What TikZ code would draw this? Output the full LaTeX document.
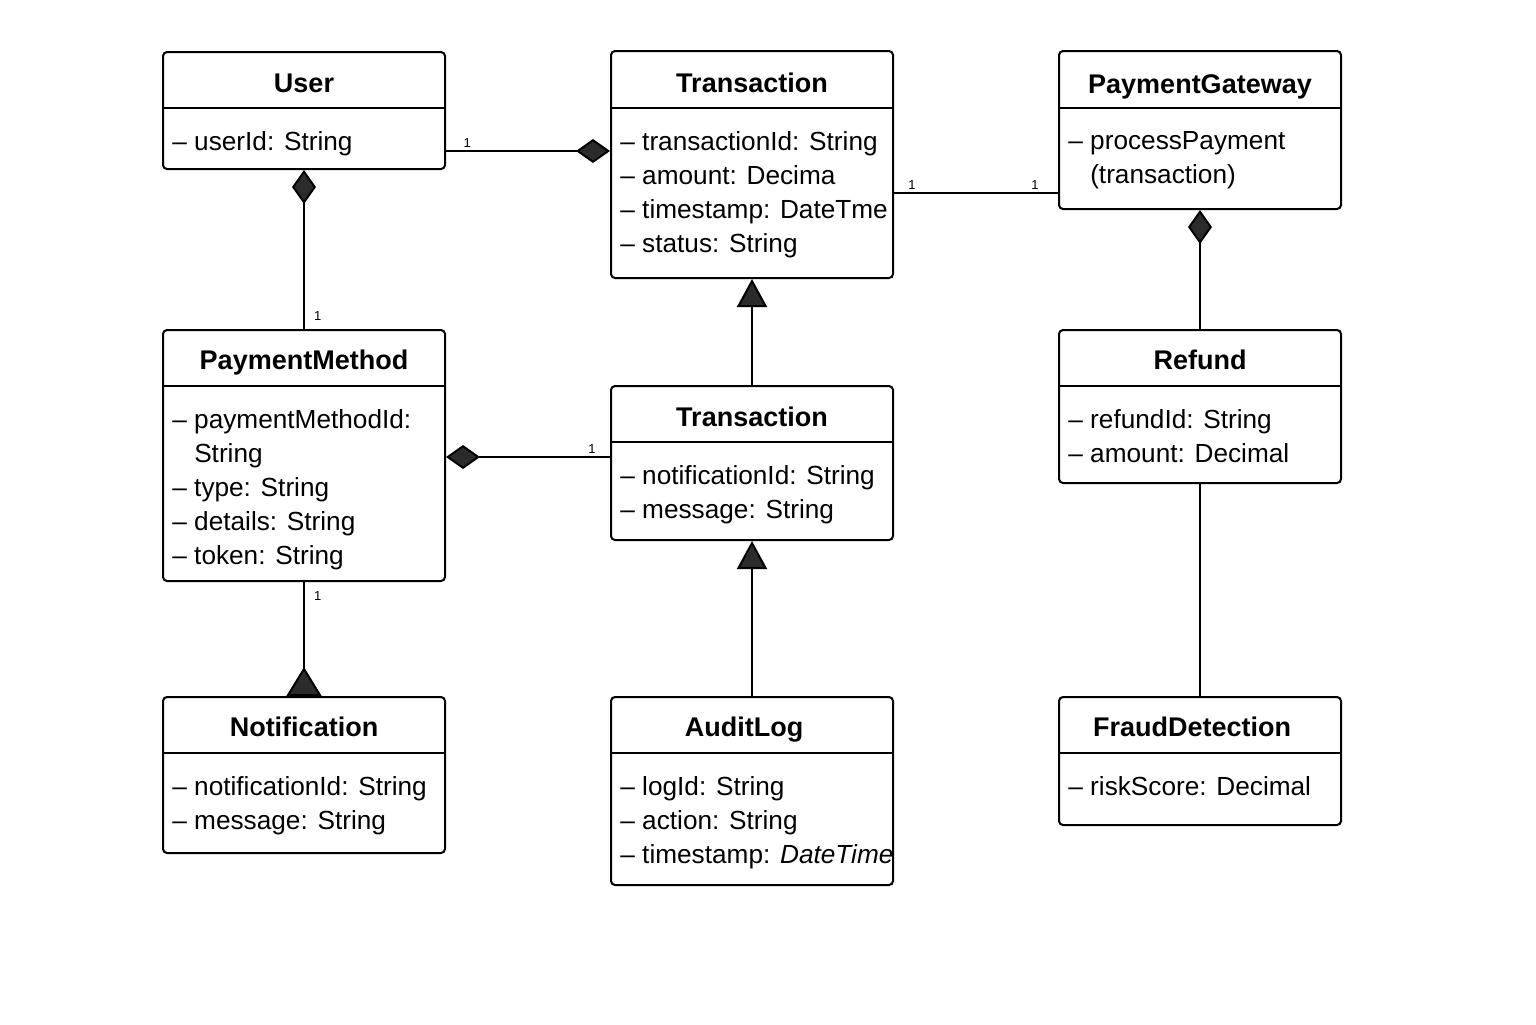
\documentclass[tikz,border=0pt]{standalone}
\usepackage{fontspec}
\setmainfont{Liberation Sans}
\usetikzlibrary{positioning, fit, calc, arrows.meta}

\definecolor{tipgray}{HTML}{2B2B2B}

\tikzset{
  classbox/.style={draw, line width=1pt, rounded corners=2pt, inner sep=0pt},
  classname/.style={font=\fontsize{13.5}{16}\selectfont\bfseries, text height=9.7pt, text depth=0pt, inner sep=0pt},
  attrs/.style={font=\fontsize{13.1}{17}\selectfont, align=left, anchor=north west, inner sep=0pt},
  link/.style={line width=1pt},
  comp/.style={link, -{Diamond[length=17pt, width=12pt, fill=tipgray]}},
  gen/.style={link, -{Triangle[length=14pt, width=15pt, fill=tipgray]}},
  mult/.style={font=\fontsize{6.5}{7}\selectfont, inner sep=1.5pt},
}

\begin{document}
\begin{tikzpicture}[x=0.5pt, y=-0.5pt]
                \useasboundingbox (0,0) rectangle (1536,1024);

                % klase
                \node[classbox, fit={(163,52) (445,169)}] (user) {};
                \node[classname] at (304,83) {User};
                \draw[link] (user.west |- 0,108) -- (user.east |- 0,108);
                \node[attrs] at (172,131) {– userId: String};

                \node[classbox, fit={(611,51) (893,278)}] (trans) {};
                \node[classname] at (752,83) {Transaction};
                \draw[link] (trans.west |- 0,108) -- (trans.east |- 0,108);
                \node[attrs] at (620,131) {– transactionId: String\\– amount: Decima\\– timestamp: DateTme\\– status: String};

                \node[classbox, fit={(1059,51) (1341,209)}] (gateway) {};
                \node[classname] at (1200,84) {PaymentGateway};
                \draw[link] (gateway.west |- 0,108) -- (gateway.east |- 0,108);
                \node[attrs] at (1068,131) {– processPayment\\\phantom{– }(transaction)};

                \node[classbox, fit={(163,330) (445,581)}] (method) {};
                \node[classname] at (304,360) {PaymentMethod};
                \draw[link] (method.west |- 0,386) -- (method.east |- 0,386);
                \node[attrs] at (172,409) {– paymentMethodId:\\\phantom{– }String\\– type: String\\– details: String\\– token: String};

                \node[classbox, fit={(611,386) (893,540)}] (transsub) {};
                \node[classname] at (752,417) {Transaction};
                \draw[link] (transsub.west |- 0,442) -- (transsub.east |- 0,442);
                \node[attrs] at (620,465) {– notificationId: String\\– message: String};

                \node[classbox, fit={(1059,330) (1341,483)}] (refund) {};
                \node[classname] at (1200,360) {Refund};
                \draw[link] (refund.west |- 0,386) -- (refund.east |- 0,386);
                \node[attrs] at (1068,409) {– refundId: String\\– amount: Decimal};

                \node[classbox, fit={(163,697) (445,853)}] (notif) {};
                \node[classname] at (304,727) {Notification};
                \draw[link] (notif.west |- 0,753) -- (notif.east |- 0,753);
                \node[attrs] at (172,776) {– notificationId: String\\– message: String};

                \node[classbox, fit={(611,697) (893,885)}] (audit) {};
                \node[classname] at (744,727) {AuditLog};
                \draw[link] (audit.west |- 0,753) -- (audit.east |- 0,753);
                \node[attrs] at (620,776) {– logId: String\\– action: String\\– timestamp: \textit{DateTime}};

                \node[classbox, fit={(1059,697) (1341,825)}] (fraud) {};
                \node[classname] at (1192,727) {FraudDetection};
                \draw[link] (fraud.west |- 0,753) -- (fraud.east |- 0,753);
                \node[attrs] at (1068,776) {– riskScore: Decimal};

                % veze
                \draw[comp] (user.east |- 0,151) -- node[mult, pos=0.13, above] {1} (trans.west |- 0,151);
                \draw[comp] (method.north) -- node[mult, pos=0.08, right=3pt] {1} (user.south);
                \draw[link] (trans.east |- 0,193) -- node[mult, pos=0.11, above] {1} node[mult, pos=0.86, above] {1} (gateway.west |- 0,193);
                \draw[comp] (refund.north) -- (gateway.south);
                \draw[comp] (transsub.west |- 0,457) -- node[mult, pos=0.11, above] {1} (method.east |- 0,457);
                \draw[gen] (transsub.north) -- (trans.south);
                \draw[gen] (audit.north) -- (transsub.south);
                \draw[link, -{Triangle[reversed, length=14.5pt, width=17.5pt, fill=tipgray]}] (method.south) -- node[mult, pos=0.12, right=3pt] {1} (notif.north);
                \draw[link] (refund.south) -- (fraud.north);
            \end{tikzpicture}
\end{document}
